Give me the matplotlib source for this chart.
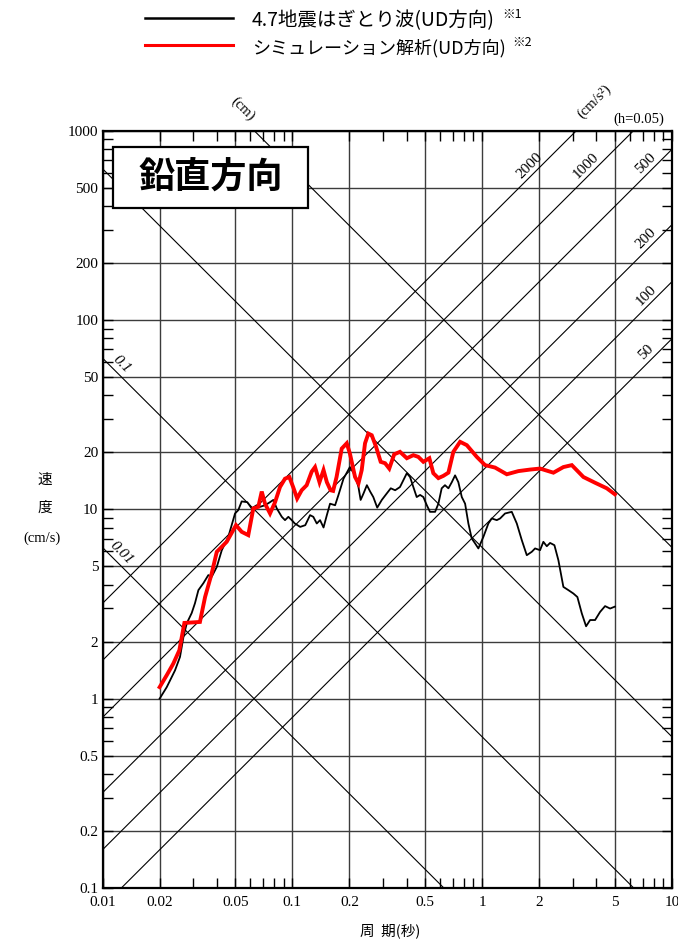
import numpy as np
import matplotlib
matplotlib.use('Agg')
import matplotlib.pyplot as plt
from matplotlib.patches import Rectangle
from matplotlib.lines import Line2D

SERIF = 'Liberation Serif'
CJK = ['Noto Sans CJK JP', 'DejaVu Sans']

# observed record (stripped wave, UD)
black_T = [0.020, 0.0218, 0.0241, 0.0256, 0.0267, 0.0278, 0.0295, 0.0307, 0.0320, 0.0340,
           0.0361, 0.0376, 0.0400, 0.0425, 0.0460, 0.0499, 0.0519, 0.0541, 0.0579, 0.0611,
           0.0649, 0.0676, 0.0718, 0.0763, 0.0794, 0.0828, 0.0880, 0.0915, 0.0953, 0.0993,
           0.103, 0.110, 0.117, 0.124, 0.129, 0.1345, 0.140, 0.146, 0.152, 0.158,
           0.168, 0.175, 0.186, 0.201, 0.214, 0.223, 0.229, 0.237, 0.247, 0.257,
           0.267, 0.280, 0.296, 0.314, 0.330, 0.348, 0.369, 0.384, 0.401, 0.417,
           0.434, 0.452, 0.471, 0.490, 0.511, 0.531, 0.565, 0.588, 0.612, 0.637,
           0.664, 0.692, 0.720, 0.749, 0.781, 0.813, 0.846, 0.881, 0.918, 0.955,
           1.015, 1.078, 1.123, 1.194, 1.243, 1.320, 1.432, 1.522, 1.617, 1.718,
           1.825, 1.900, 2.018, 2.101, 2.190, 2.279, 2.402, 2.521, 2.678, 2.846,
           3.023, 3.174, 3.348, 3.527, 3.703, 3.934, 4.180, 4.441, 4.720, 5.0]
black_V = [1.00, 1.15, 1.41, 1.66, 2.12, 2.50, 2.83, 3.19, 3.74, 4.07,
           4.49, 4.40, 4.96, 6.08, 7.15, 9.50, 9.89, 11.0, 10.9, 10.1,
           10.5, 10.3, 10.5, 10.9, 11.2, 10.1, 9.12, 8.76, 9.12, 8.76,
           8.41, 8.07, 8.24, 9.31, 9.12, 8.41, 8.76, 8.01, 9.31, 10.7,
           10.5, 11.9, 14.5, 16.7, 15.1, 13.1, 11.2, 12.1, 13.4, 12.4,
           11.6, 10.2, 11.2, 12.1, 12.9, 12.6, 13.1, 14.2, 15.5, 14.8,
           13.1, 11.6, 11.9, 11.6, 10.5, 9.69, 9.69, 10.7, 12.9, 13.4,
           12.9, 13.9, 15.1, 13.9, 11.6, 10.7, 8.41, 7.01, 6.60, 6.21,
           7.15, 8.41, 8.94, 8.76, 8.94, 9.50, 9.69, 8.41, 6.87, 5.72,
           5.96, 6.21, 6.08, 6.73, 6.38, 6.64, 6.46, 5.38, 3.89, 3.74,
           3.59, 3.44, 2.82, 2.41, 2.60, 2.60, 2.87, 3.08, 2.99, 3.06]

# simulation
red_T = [0.020, 0.0218, 0.0236, 0.0254, 0.0270, 0.0326, 0.0347, 0.0376, 0.0400, 0.0451,
         0.0505, 0.0541, 0.0586, 0.0623, 0.0662, 0.0690, 0.0718, 0.0763, 0.0811, 0.0861,
         0.0915, 0.0964, 0.101, 0.106, 0.112, 0.119, 0.1265, 0.1317, 0.139, 0.146,
         0.152, 0.159, 0.164, 0.171, 0.182, 0.1935, 0.201, 0.214, 0.223, 0.232,
         0.2415, 0.2514, 0.262, 0.276, 0.292, 0.308, 0.324, 0.344, 0.369, 0.401,
         0.434, 0.461, 0.490, 0.527, 0.553, 0.588, 0.624, 0.664, 0.705, 0.765,
         0.830, 0.937, 1.036, 1.169, 1.348, 1.551, 1.788, 2.018, 2.373, 2.678,
         2.966, 3.414, 3.934, 4.534, 5.0]
red_V = [1.15, 1.33, 1.53, 1.80, 2.51, 2.54, 3.44, 4.58, 5.96, 6.73,
         8.24, 7.60, 7.30, 10.1, 10.3, 12.4, 10.7, 9.5, 10.9, 13.1,
         14.5, 14.8, 13.1, 11.4, 12.6, 13.4, 15.8, 16.7, 13.9, 16.1,
         13.9, 12.6, 12.5, 14.8, 20.9, 22.3, 19.7, 14.8, 13.7, 16.1,
         22.3, 25.1, 24.6, 21.4, 17.8, 17.5, 16.4, 19.5, 20.1, 18.6,
         19.3, 18.9, 17.8, 18.6, 15.5, 14.6, 15.0, 15.6, 20.1, 22.7,
         21.8, 18.9, 17.1, 16.6, 15.3, 15.9, 16.2, 16.4, 15.6, 16.7,
         17.1, 14.8, 13.8, 12.9, 12.0]

# tripartite guide lines
disp_lines = [0.01, 0.1, 1, 10]              # cm
disp_labels = ['0.01', '0.1']
acc_lines = [50, 100, 200, 500, 1000, 2000]  # cm/s^2
acc_label_T = [7.3, 7.3, 7.3, 7.3, 3.54, 1.77]

x_major = [0.01, 0.02, 0.05, 0.1, 0.2, 0.5, 1, 2, 5, 10]
x_labels = ['0.01', '0.02', '0.05', '0.1', '0.2', '0.5', '1', '2', '5', '10']
y_major = [0.1, 0.2, 0.5, 1, 2, 5, 10, 20, 50, 100, 200, 500, 1000]
y_labels = ['0.1', '0.2', '0.5', '1', '2', '5', '10', '20', '50', '100', '200', '500', '1000']
minor_mult = [3, 4, 6, 7, 8, 9]

fig = plt.figure(figsize=(6.78, 9.42), dpi=100)
ax = fig.add_axes([102.5 / 678, 54 / 942, 569.5 / 678, 757.5 / 942])
ax.set_xscale('log')
ax.set_yscale('log')
ax.set_xlim(0.01, 10)
ax.set_ylim(0.1, 1000)

T = np.logspace(-2, 1, 300)
for D in disp_lines:
    ax.plot(T, 2 * np.pi * D / T, color='black', lw=0.8, zorder=2)
for A in acc_lines:
    ax.plot(T, A * T / (2 * np.pi), color='black', lw=0.8, zorder=2)

ax.plot(black_T, black_V, color='black', lw=1.3, zorder=4)
ax.plot(red_T, red_V, color='#ff0000', lw=2.8, zorder=5, solid_joinstyle='miter')

# ticks and grid
ax.set_xticks(x_major)
ax.set_xticklabels(x_labels, fontfamily=SERIF, fontsize=11)
ax.set_yticks(y_major)
ax.set_yticklabels(y_labels, fontfamily=SERIF, fontsize=11)
xminor = [m * 10.0 ** e for e in (-2, -1, 0) for m in minor_mult]
yminor = [m * 10.0 ** e for e in (-1, 0, 1, 2) for m in minor_mult]
ax.set_xticks(xminor, minor=True)
ax.set_yticks(yminor, minor=True)
ax.xaxis.set_minor_formatter(plt.NullFormatter())
ax.yaxis.set_minor_formatter(plt.NullFormatter())
ax.tick_params(which='both', direction='in', top=True, right=True, width=1.0, color='black')
ax.tick_params(which='major', length=7)
ax.tick_params(which='minor', length=7)
ax.tick_params(axis='x', which='major', pad=6)
ax.tick_params(axis='y', which='major', pad=3)
ax.grid(which='major', color='#3c3c3c', lw=1.0, zorder=1)
for s in ax.spines.values():
    s.set_linewidth(1.6)
    s.set_zorder(6)

# line labels
for D, lab in zip(disp_lines[:2], disp_labels):
    t0 = 0.0126
    ax.annotate(lab, xy=(t0, 2 * np.pi * D / t0), xytext=(0, 13), textcoords='offset pixels',
                rotation=-45, ha='center', va='center', fontfamily=SERIF, fontsize=11,
                fontstyle='italic', zorder=7)
for A, t0 in zip(acc_lines, acc_label_T):
    ax.annotate(str(A), xy=(t0, A * t0 / (2 * np.pi)), xytext=(0, 12), textcoords='offset pixels',
                rotation=45, ha='center', va='center', fontfamily=SERIF, fontsize=11, zorder=7)

fig.text(243 / 678, 1 - 109 / 942, '(cm)', rotation=-45, ha='center', va='center',
         fontfamily=SERIF, fontsize=10.5)
fig.text(594 / 678, 1 - 102 / 942, '(cm/s²)', rotation=45, ha='center', va='center',
         fontfamily=SERIF, fontsize=10.5)
fig.text(639 / 678, 1 - 119 / 942, '(h=0.05)', ha='center', va='center',
         fontfamily=SERIF, fontsize=10.5)

# title box
ax.add_patch(Rectangle((0.0184, 0.8977), 0.3426, 0.0803, transform=ax.transAxes,
                       facecolor='white', edgecolor='black', lw=1.6, zorder=8))
ax.text(0.19, 0.938, '鉛直方向', transform=ax.transAxes, ha='center', va='center',
        fontfamily=CJK, fontsize=26, fontweight='bold', zorder=9)

# axis titles
fig.text(45 / 678, 1 - 480 / 942, '速', ha='center', va='center', fontfamily=CJK, fontsize=10.5)
fig.text(45 / 678, 1 - 508 / 942, '度', ha='center', va='center', fontfamily=CJK, fontsize=10.5)
fig.text(42 / 678, 1 - 538 / 942, '(cm/s)', ha='center', va='center', fontfamily=SERIF, fontsize=10.5)
fig.text(390 / 678, 1 - 931 / 942, '周  期(秒)', ha='center', va='center', fontfamily=CJK, fontsize=10.5)

# legend
leg_items = [('black', 1.8, '4.7地震はぎとり波(UD方向)', '※1', 18, 14),
             ('#ff0000', 2.2, 'シミュレーション解析(UD方向)', '※2', 45, 13)]
for col, lw, txt, note, ypx, fs in leg_items:
    fig.add_artist(Line2D([145 / 678, 233 / 678], [1 - ypx / 942] * 2, color=col, lw=lw,
                          transform=fig.transFigure))
    t = fig.text(252 / 678, 1 - (ypx + 3) / 942, txt, ha='left', va='center',
                 fontfamily=CJK, fontsize=fs)
    ax.annotate(note, xy=(1, 0.5), xycoords=t, xytext=(7, 6), textcoords='offset pixels',
                ha='left', va='center', fontfamily=CJK, fontsize=9, annotation_clip=False)

fig.savefig('out.png', dpi=100)
